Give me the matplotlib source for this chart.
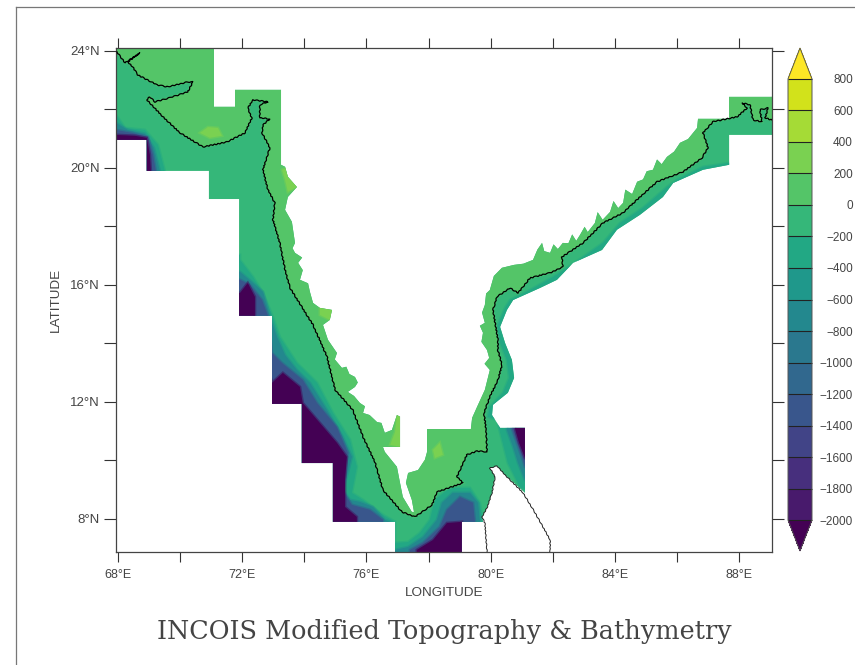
import numpy as np
import matplotlib
matplotlib.use("Agg")
import matplotlib.pyplot as plt
from matplotlib.colors import BoundaryNorm, ListedColormap
from matplotlib.cm import ScalarMappable
from matplotlib.lines import Line2D

plt.rcParams['font.family'] = ['Liberation Sans', 'DejaVu Sans']

LEVELS = [-2000, -1800, -1600, -1400, -1200, -1000, -800, -600, -400, -200,
          0, 200, 400, 600, 800]
LON_TICKS = [68, 70, 72, 74, 76, 78, 80, 82, 84, 86, 88]
LAT_TICKS = [8, 10, 12, 14, 16, 18, 20, 22, 24]
TITLE = "INCOIS Modified Topography & Bathymetry"

# outline of the area that has data (lon, lat)
DOMAIN_NORTH = [(67.94, 24.09), (71.09, 24.09), (71.09, 22.08), (71.77, 22.08), (71.77, 22.66), (73.25, 22.66)]
# landward limit of the data, west coast then east coast
INLAND_EDGE = [
    (73.25, 20.10), (73.38, 20.03), (73.47, 19.69), (73.76, 19.34), (73.47, 19.00), (73.38, 18.56),
    (73.60, 18.15), (73.70, 17.43), (73.62, 17.25), (73.70, 17.09), (73.93, 16.93), (73.80, 16.75),
    (73.95, 16.50), (73.86, 16.17), (74.12, 16.05), (74.18, 15.76),
    (74.28, 15.38), (74.50, 15.21), (74.89, 15.14), (74.82, 14.80), (74.60, 14.63), (74.76, 14.12),
    (75.05, 13.67), (74.98, 13.45), (75.21, 13.16), (75.35, 13.20), (75.45, 12.95), (75.63, 12.85),
    (75.72, 12.66), (75.63, 12.51), (75.40, 12.34), (75.60, 12.20), (75.79, 11.96), (75.95, 11.85),
    (75.89, 11.62), (76.10, 11.55), (76.34, 11.31), (76.48, 11.28), (76.59, 10.94), (76.82, 11.04), (76.98, 11.55), (77.08, 11.49),
    (77.08, 10.46), (76.53, 10.46), (76.59, 10.29), (76.98, 9.78), (77.08, 9.23), (77.17, 8.75),
    (77.46, 8.24), (77.53, 8.24), (77.46, 8.65), (77.27, 9.23), (77.34, 9.57), (77.66, 9.67),
    (77.88, 10.02), (77.95, 10.29), (77.95, 11.07), (79.36, 11.07), (79.40, 11.45), (79.56, 11.83),
    (79.81, 12.41), (79.97, 13.09), (79.80, 13.30), (79.95, 13.50), (79.88, 13.77), (79.70, 14.05),
    (79.75, 14.36), (79.65, 14.60), (79.81, 14.70), (79.72, 15.05), (79.81, 15.31), (79.85, 15.70),
    (79.97, 15.82), (80.10, 16.30), (80.36, 16.58), (80.75, 16.68), (81.05, 16.72), (81.36, 16.85),
    (81.50, 17.20), (81.65, 17.43), (81.72, 17.15), (81.91, 17.09), (82.02, 17.38), (82.16, 17.22),
    (82.32, 17.43), (82.50, 17.42), (82.62, 17.72), (82.75, 17.50), (82.87, 17.70), (83.02, 17.98),
    (83.12, 17.80), (83.35, 18.11), (83.44, 18.48), (83.60, 18.22), (83.84, 18.49), (83.95, 18.86),
    (84.10, 18.62), (84.26, 18.80), (84.33, 19.25), (84.55, 19.10), (84.71, 19.52), (84.90, 19.60),
    (85.02, 19.88), (85.22, 19.93), (85.35, 20.28), (85.50, 20.12), (85.67, 20.37), (85.90, 20.55),
    (86.09, 20.85), (86.35, 20.98), (86.64, 21.36), (86.67, 21.67),
]
DOMAIN_SOUTH = [
    (87.67, 21.67), (87.67, 22.42),
    (89.05, 22.42), (89.05, 21.12), (87.67, 21.12), (87.67, 20.10), (86.83, 19.93), (85.87, 19.48),
    (85.54, 19.00), (84.80, 18.39), (84.06, 17.88), (83.58, 17.19), (82.65, 16.75), (82.13, 16.17),
    (81.58, 15.89), (80.72, 15.48), (80.52, 15.14), (80.30, 14.56), (80.46, 14.01), (80.68, 13.43),
    (80.75, 12.82), (80.55, 12.31), (80.07, 11.90), (80.04, 11.55), (80.30, 11.11), (81.10, 11.11),
    (81.10, 8.89), (80.46, 9.50), (80.20, 9.81), (79.97, 9.74), (80.14, 9.44), (80.04, 8.89),
    (79.88, 8.38), (79.72, 8.07), (79.75, 7.90), (79.07, 7.90), (79.07, 6.87), (76.92, 6.87),
    (76.92, 7.90), (74.92, 7.90), (74.92, 9.91), (73.92, 9.91), (73.92, 11.93), (72.96, 11.93),
    (72.96, 14.94), (71.90, 14.94), (71.90, 18.93), (70.93, 18.93), (70.93, 19.89), (68.93, 19.89),
    (68.93, 20.95), (67.94, 20.95),
]
DOMAIN = DOMAIN_NORTH + INLAND_EDGE + DOMAIN_SOUTH

COAST_INDIA = [
    (67.97, 23.96), (68.16, 23.68), (68.23, 23.58), (68.71, 23.92), (68.32, 23.62), (68.48, 23.44),
    (68.64, 23.17), (69.26, 22.83), (69.61, 22.76), (70.25, 22.93), (70.41, 22.93), (70.25, 22.59),
    (69.67, 22.39), (69.19, 22.25), (69.03, 22.42), (68.93, 22.32), (69.45, 21.74), (70.00, 21.19),
    (70.74, 20.71), (71.51, 20.88), (72.09, 21.19), (72.31, 21.70), (72.18, 22.04), (72.35, 22.32),
    (72.83, 22.25), (72.57, 22.15), (72.57, 21.70), (72.89, 21.67), (72.67, 21.46), (72.64, 21.19),
    (72.89, 20.68), (72.67, 19.93), (72.83, 19.24), (73.05, 18.80), (72.99, 18.22), (73.21, 17.43),
    (73.38, 16.51), (73.54, 15.89), (73.92, 15.24), (74.28, 14.63), (74.73, 13.54), (74.99, 12.41),
    (75.56, 11.72), (75.89, 10.80), (76.27, 9.95), (76.53, 8.99), (77.14, 8.24), (77.56, 8.07),
    (78.11, 8.48), (78.27, 8.92), (79.11, 9.23), (78.91, 9.44), (79.23, 10.19), (79.56, 10.32),
    (79.88, 10.29), (79.85, 11.04), (79.78, 11.62), (79.97, 12.17), (80.23, 12.75), (80.36, 13.26),
    (80.23, 13.77), (80.23, 14.12), (80.14, 14.70), (80.07, 15.14), (80.20, 15.59), (80.62, 15.89),
    (80.88, 15.72), (81.26, 16.23), (81.91, 16.41), (82.32, 16.61), (82.29, 16.95), (82.97, 17.43),
    (83.61, 18.11), (84.26, 18.46), (84.80, 19.00), (85.35, 19.52), (86.19, 19.86), (86.80, 20.34),
    (86.99, 20.68), (86.83, 21.19), (87.15, 21.57), (87.93, 21.74), (88.25, 22.04), (88.09, 22.21),
    (88.34, 22.15), (88.44, 21.63), (88.73, 21.57), (88.66, 21.98), (88.92, 22.04), (88.83, 21.70),
    (89.05, 21.63),
]
LAND_CLOSE = [(89.05, 24.2), (67.9, 24.2)]

COAST_SRILANKA = [
    (79.88, 6.87), (79.81, 7.86), (79.72, 8.07), (79.88, 8.38), (80.04, 8.89), (80.14, 9.44),
    (79.97, 9.74), (80.20, 9.81), (80.46, 9.50), (81.04, 8.89), (81.33, 8.38), (81.68, 7.73),
    (81.91, 7.28), (81.91, 6.87),
]

# depth bands, each polygon is closed on the seaward side and clipped to DOMAIN
NW_300 = [(67.94, 21.80), (68.23, 21.36), (68.87, 21.29), (69.29, 20.78), (69.51, 19.89), (69.51, 19.5), (67.5, 19.5), (67.5, 21.8)]
NW_700 = [(67.94, 21.53), (68.32, 21.29), (68.87, 21.16), (69.16, 20.68), (69.35, 19.89), (69.35, 19.5), (67.5, 19.5), (67.5, 21.53)]
NW_1300 = [(67.94, 21.29), (68.45, 21.19), (68.97, 21.05), (69.13, 20.44), (69.22, 19.89), (69.22, 19.5), (67.5, 19.5), (67.5, 21.29)]
NW_2100 = [(67.94, 21.12), (68.55, 21.09), (68.93, 21.02), (69.03, 20.44), (69.06, 19.89), (69.06, 19.5), (67.5, 19.5), (67.5, 21.12)]

WEST_300 = [(71.93, 17.02), (71.93, 16.85), (72.35, 16.27), (72.67, 15.72), (72.99, 14.90), (73.21, 14.22), (73.76, 13.33),
            (74.41, 12.65), (74.92, 11.62), (75.47, 10.70), (75.69, 9.78), (75.53, 8.89), (75.89, 8.65), (76.53, 8.14),
            (76.92, 7.90), (76.92, 6.5), (71.5, 6.5), (71.5, 17.02)]
WEST_700 = [(71.93, 16.44), (72.31, 16.10), (72.67, 15.76), (72.96, 14.70), (73.12, 14.22), (73.38, 13.60), (73.76, 13.09),
            (74.18, 12.65), (74.73, 11.72), (75.24, 10.80), (75.53, 10.12), (75.40, 9.57), (75.24, 8.99), (75.47, 8.65),
            (75.79, 8.58), (76.21, 8.41), (76.59, 7.97), (76.76, 7.90), (76.92, 6.5), (71.5, 6.5), (71.5, 16.44)]
WEST_1300 = [(71.93, 16.17), (72.25, 16.00), (72.64, 15.48), (72.83, 14.94), (72.96, 13.67), (73.28, 13.33), (73.95, 12.75),
             (74.41, 11.96), (75.05, 11.14), (75.40, 10.26), (75.31, 9.67), (75.21, 8.99), (75.53, 8.48), (76.11, 8.31),
             (76.53, 7.97), (76.6, 6.5), (71.5, 6.5), (71.5, 16.17)]
WEST_2100 = [(71.93, 15.72), (72.18, 16.06), (72.41, 15.59), (72.41, 14.94), (72.96, 12.65), (73.31, 12.99), (73.86, 12.51),
             (73.95, 11.96), (74.50, 11.28), (75.05, 10.60), (75.37, 10.12), (75.31, 9.33), (75.31, 8.41), (75.69, 8.07),
             (75.69, 6.5), (71.5, 6.5), (71.5, 15.72)]

GULF_300 = [(76.92, 7.18), (77.34, 7.21), (77.72, 7.52), (78.04, 7.97), (78.20, 8.65), (78.69, 9.06), (79.33, 9.06),
            (79.65, 8.55), (79.75, 7.90), (79.75, 6.5), (76.92, 6.5)]
GULF_700 = [(76.92, 6.94), (77.34, 7.04), (77.82, 7.38), (78.27, 7.97), (78.43, 8.55), (78.78, 8.89), (79.33, 8.89),
            (79.59, 8.55), (79.65, 7.90), (79.65, 6.5), (76.92, 6.5)]
GULF_1300 = [(77.40, 6.94), (77.82, 7.18), (78.36, 7.73), (78.59, 8.31), (79.01, 8.75), (79.43, 8.55), (79.49, 7.90),
             (79.49, 6.5), (77.40, 6.5)]
GULF_2100 = [(77.62, 6.94), (78.14, 7.28), (78.59, 7.86), (79.07, 7.90), (79.07, 6.5), (77.62, 6.5)]

EAST_300 = [(81.10, 8.99), (80.94, 9.09), (80.55, 9.91), (80.36, 10.70), (80.20, 11.38), (79.91, 11.49), (79.97, 11.83),
            (80.39, 12.31), (80.59, 12.82), (80.52, 13.43), (80.30, 14.01), (80.20, 14.56), (80.46, 15.21), (80.62, 15.48),
            (81.26, 15.82), (82.13, 16.34), (82.97, 16.95), (83.61, 17.43), (84.16, 18.11), (84.90, 18.63), (85.67, 19.34),
            (85.99, 19.58), (86.83, 20.03), (87.67, 20.16), (88.0, 20.0), (88.0, 7.0), (81.8, 7.0)]
EAST_700 = [(80.52, 11.2), (80.52, 11.04), (80.72, 10.46), (80.88, 9.91), (81.10, 9.33), (81.5, 9.33), (81.5, 11.2)]
EAST_1300 = [(80.68, 11.2), (80.68, 11.08), (80.84, 10.60), (81.00, 10.12), (81.10, 9.78), (81.5, 9.78), (81.5, 11.2)]
EAST_2100 = [(80.78, 11.2), (80.78, 11.08), (80.91, 10.60), (81.10, 10.08), (81.5, 10.08), (81.5, 11.2)]

# higher ground patches, 200-400 m
HILL_A = [(70.64, 21.19), (70.90, 21.39), (71.22, 21.36), (71.35, 21.09), (70.96, 21.02)]
HILL_B = [(73.28, 19.93), (73.44, 20.00), (73.76, 19.34), (73.47, 19.17), (73.38, 19.58)]
HILL_C = [(74.50, 15.21), (74.89, 15.14), (74.82, 14.80), (74.50, 14.97)]
HILL_D = [(76.92, 10.97), (76.98, 11.55), (77.08, 11.49), (77.08, 10.46), (76.76, 10.53)]
HILL_E = [(77.27, 9.67), (77.40, 9.98), (77.79, 9.95), (77.46, 9.67)]
HILL_F = [(78.14, 10.36), (78.36, 10.60), (78.46, 10.19), (78.20, 10.08)]

SHELF_VALUE = -100
LAND_VALUE = 100
HILL_VALUE = 300

# one colour per interval plus the two end triangles
cmap_all = plt.get_cmap('viridis', len(LEVELS) + 1)
colors = [cmap_all(i) for i in range(len(LEVELS) + 1)]
cmap = ListedColormap(colors[1:-1])
cmap.set_under(colors[0])
cmap.set_over(colors[-1])
norm = BoundaryNorm(LEVELS, cmap.N)

fig = plt.figure(figsize=(8.55, 6.65), dpi=100)
ax = fig.add_axes([116 / 855, 1 - 552 / 665, 656 / 855, 504 / 665])
ax.set_xlim(67.94, 89.05)
ax.set_ylim(6.87, 24.09)


def fill_poly(points, value, clip):
    lon = [p[0] for p in points]
    lat = [p[1] for p in points]
    rgba = cmap(norm(value))
    # soft edge so neighbouring bands blend a little like the original
    for patch in ax.fill(lon, lat, facecolor=rgba, edgecolor=(rgba[0], rgba[1], rgba[2], 0.45),
                         linewidth=2.0, zorder=2):
        patch.set_clip_path(clip)


domain_lon = [p[0] for p in DOMAIN]
domain_lat = [p[1] for p in DOMAIN]
domain = ax.fill(domain_lon, domain_lat, color=cmap(norm(SHELF_VALUE)), linewidth=0, zorder=1)[0]

for poly, value in [(NW_300, -300), (NW_700, -700), (NW_1300, -1300), (NW_2100, -2100),
                    (WEST_300, -300), (WEST_700, -700), (WEST_1300, -1300), (WEST_2100, -2100),
                    (GULF_300, -300), (GULF_700, -700), (GULF_1300, -1300), (GULF_2100, -2100),
                    (EAST_300, -300), (EAST_700, -700), (EAST_1300, -1300), (EAST_2100, -2100)]:
    fill_poly(poly, value, domain)

fill_poly(COAST_INDIA + LAND_CLOSE, LAND_VALUE, domain)
for poly in [HILL_A, HILL_B, HILL_C, HILL_D, HILL_E, HILL_F]:
    fill_poly(poly, HILL_VALUE, domain)

coast_line, = ax.plot([p[0] for p in COAST_INDIA], [p[1] for p in COAST_INDIA], color='black', linewidth=0.9, zorder=3)
coast_line.set_sketch_params(0.5, 5.0, 2.0)
lanka_line, = ax.plot([p[0] for p in COAST_SRILANKA], [p[1] for p in COAST_SRILANKA], color='#222222', linewidth=0.7, zorder=3)
lanka_line.set_sketch_params(0.4, 5.0, 2.0)

ax.set_xticks(LON_TICKS)
ax.set_yticks(LAT_TICKS)
ax.set_xticklabels([f"{v}\u00b0E" if v % 4 == 0 else "" for v in LON_TICKS], fontsize=9, color='#444444')
ax.set_yticklabels([f"{v}\u00b0N" if v % 4 == 0 else "" for v in LAT_TICKS], fontsize=9.5, color='#444444')
ax.tick_params(axis='x', direction='out', length=7.5, width=0.8, top=True, color='#333333', pad=5)
ax.tick_params(axis='y', direction='out', length=8.5, width=0.8, right=True, color='#333333', pad=3)
for s in ax.spines.values():
    s.set_linewidth(0.9)
    s.set_color('#444444')

fig.text(444 / 855, 1 - 593 / 665, "LONGITUDE", fontsize=9.7, color='#444444', ha='center', va='center')
fig.text(56 / 855, 1 - 300 / 665, "LATITUDE", fontsize=9.7, color='#444444', ha='center', va='center', rotation=90)
fig.text(444 / 855, 1 - 632 / 665, TITLE, fontsize=18.4, family='DejaVu Serif', color='#444444', ha='center', va='center')

# colour bar, the axes includes both triangles
cax = fig.add_axes([788 / 855, 1 - 551 / 665, 24 / 855, 503 / 665])
cb = fig.colorbar(ScalarMappable(norm=norm, cmap=cmap), cax=cax, extend='both',
                  extendfrac=0.07, drawedges=True, ticks=LEVELS)
cb.dividers.set_color('#222222')
cb.dividers.set_linewidth(0.8)
cb.outline.set_edgecolor('#555555')
cb.outline.set_linewidth(0.7)
cax.tick_params(length=0, pad=29.5, labelsize=8.5, labelcolor='#444444')
cax.set_yticklabels([str(v).replace('-', '\u2212') for v in LEVELS], ha='right')

# page frame, only top and left show in the picture
fig.add_artist(Line2D([16 / 855, 16 / 855], [0, 1 - 7 / 665], color='#777777', linewidth=0.9))
fig.add_artist(Line2D([16 / 855, 1], [1 - 7 / 665, 1 - 7 / 665], color='#777777', linewidth=0.9))

fig.savefig("out.png", dpi=100)
